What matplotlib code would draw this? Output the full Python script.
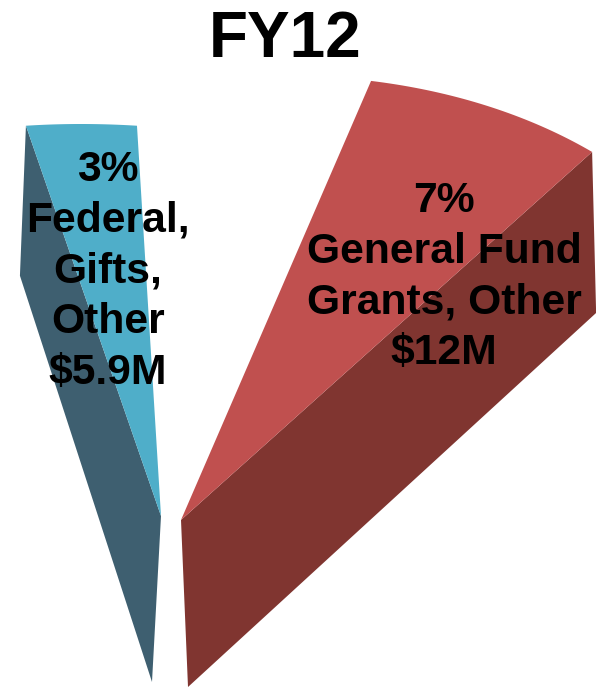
import numpy as np
import matplotlib
matplotlib.use('Agg')
import matplotlib.pyplot as plt
from matplotlib.patches import Polygon

plt.rcParams['font.family'] = ['Liberation Sans', 'DejaVu Sans']

title = 'FY12'

# pie shares in percent
shares = [3, 7]
blue_lines = ['3%', 'Federal,', 'Gifts,', 'Other', '$5.9M']
red_lines = ['7%', 'General Fund', 'Grants, Other', '$12M']

FACE_BLUE = '#4FAEC9'
WALL_BLUE = '#3E5F70'
FACE_RED = '#C0504F'
WALL_RED = '#803530'


def rim_points(share, start_deg, apex, u, v, n=40):
    '''
    Rim of a slice, with the pie plane mapped to the page by vectors u and v
    '''
    sweep = share / 100 * 360
    theta = np.radians(np.linspace(start_deg, start_deg + sweep, n))
    x = apex[0] + u[0] * np.sin(theta) + v[0] * np.cos(theta)
    y = apex[1] + u[1] * np.sin(theta) + v[1] * np.cos(theta)
    return np.column_stack([x, y])


def draw_slice(ax, share, start_deg, apex, u, v, rim_depth, apex_depth, wall_side, face, wall):
    rim = rim_points(share, start_deg, apex, u, v)
    apex = np.array(apex, dtype=float)
    corner = rim[0] if wall_side == 'start' else rim[-1]

    # the side wall goes under the top face
    wall_pts = [apex, corner, corner + rim_depth, apex + apex_depth]
    ax.add_patch(Polygon(wall_pts, closed=True, facecolor=wall, edgecolor='none', zorder=1))
    ax.add_patch(Polygon(np.vstack([apex, rim]), closed=True, facecolor=face, edgecolor='none', zorder=2))


def draw_lines(ax, lines, x, y_first, spacing):
    for i, line in enumerate(lines):
        ax.text(x, y_first + i * spacing, line, ha='center', va='center',
                fontsize=30.7, fontweight='bold', color='black', zorder=3)


def main():
    fig = plt.figure(figsize=(5.96, 6.87), dpi=100)
    ax = fig.add_axes([0, 0, 1, 1])
    ax.set_xlim(0, 596)
    ax.set_ylim(687, 0)
    ax.axis('off')

    draw_slice(ax, shares[0], -5.4, (161, 516), (590, 0), (-79.9, -392),
               np.array([-6, 150]), np.array([-9, 166]), 'start', FACE_BLUE, WALL_BLUE)
    draw_slice(ax, shares[1], 18, (181, 520), (592.9, -70.4), (7.2, -438.8),
               np.array([4, 161]), np.array([7, 167]), 'end', FACE_RED, WALL_RED)

    ax.text(285, 40, title, ha='center', va='center', fontsize=46, fontweight='bold', color='black')
    draw_lines(ax, blue_lines, 108, 170, 50.7)
    draw_lines(ax, red_lines, 444, 201, 50.7)

    fig.savefig('out.png', dpi=100)


if __name__ == "__main__":
    main()
